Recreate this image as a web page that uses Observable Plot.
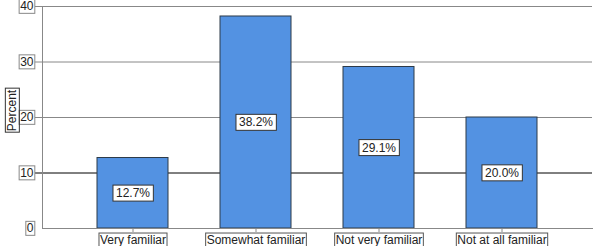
<!DOCTYPE html>
<html>
<head>
<meta charset="utf-8">
<script src="https://cdn.jsdelivr.net/npm/d3@7"></script>
<script src="https://cdn.jsdelivr.net/npm/@observablehq/plot@0.6"></script>
<style>
  html, body { margin: 0; padding: 0; background: #fff; }
  svg { display: block; }
</style>
</head>
<body>
<div id="chart"></div>
<script>
const categories = ["Very familiar", "Somewhat familiar", "Not very familiar", "Not at all familiar"];
const percents = [12.7, 38.2, 29.1, 20.0];
const valueLabels = ["12.7%", "38.2%", "29.1%", "20.0%"];
const yTicks = [0, 10, 20, 30, 40];
const yTitle = "Percent";

const data = categories.map((c, i) => ({category: c, pct: percents[i], label: valueLabels[i]}));

const chart = Plot.plot({
  width: 600,
  height: 246,
  marginLeft: 42,
  marginRight: 8,
  marginTop: 6,
  marginBottom: 18,
  style: {fontFamily: "Liberation Sans, Arial, sans-serif", fontSize: "12px", color: "#222", background: "#fff"},
  x: {domain: categories, range: [70, 564], paddingInner: 0.425, paddingOuter: 0.2125},
  y: {domain: [0, 40]},
  marks: [
    Plot.ruleY(yTicks.filter(d => d > 0), {y: d => d, insetLeft: -7, stroke: d => d === 10 ? "#000" : "#888", strokeWidth: 1}),
    Plot.barY(data, {x: "category", y: "pct", fill: "#5392e2", stroke: "#2c3a48", strokeWidth: 1}),
    Plot.frame({anchor: "left", stroke: "#888"}),
    Plot.frame({anchor: "bottom", stroke: "#888"}),
    Plot.axisY({ticks: yTicks, tickSize: 0, tickPadding: 9, fontSize: 12, fill: "#222", label: null}),
    Plot.axisX({tickSize: 4, tickPadding: 3, fontSize: 12, fill: "#222", stroke: "#888", label: null}),
    Plot.text(data, {ariaLabel: () => "value-label", x: "category", y: d => d.pct / 2, text: "label", fill: "#222", fontSize: 12}),
    Plot.text([yTitle], {ariaLabel: () => "y-title", frameAnchor: "left", textAnchor: "middle", dx: -30, dy: -7, rotate: -90, text: d => d, fill: "#222", fontSize: 12})
  ]
});

document.getElementById("chart").appendChild(chart);

// Outline boxes around labels, as in the original chart
function box(selection, opts) {
  selection.each(function() {
    const bb = this.getBBox();
    const t = this.getAttribute("transform");
    const r = d3.select(this.parentNode).insert("rect", () => this)
      .attr("x", bb.x - opts.px)
      .attr("y", bb.y - opts.py)
      .attr("width", bb.width + 2 * opts.px)
      .attr("height", bb.height + 2 * opts.py)
      .attr("fill", opts.fill)
      .attr("stroke", opts.stroke)
      .attr("stroke-width", 1);
    if (t) r.attr("transform", t);
  });
}
const svg = d3.select(chart);
box(svg.selectAll('text[aria-label="value-label"]'), {px: 3, py: 1, fill: "#fff", stroke: "#333"});
box(svg.selectAll('g[aria-label="y-axis tick label"] text'), {px: 1, py: 0, fill: "none", stroke: "#888"});
box(svg.selectAll('g[aria-label="x-axis tick label"] text'), {px: 1, py: 0, fill: "none", stroke: "#555"});
box(svg.selectAll('text[aria-label="y-title"]'), {px: 1, py: 0, fill: "none", stroke: "#333"});
</script>
</body>
</html>
